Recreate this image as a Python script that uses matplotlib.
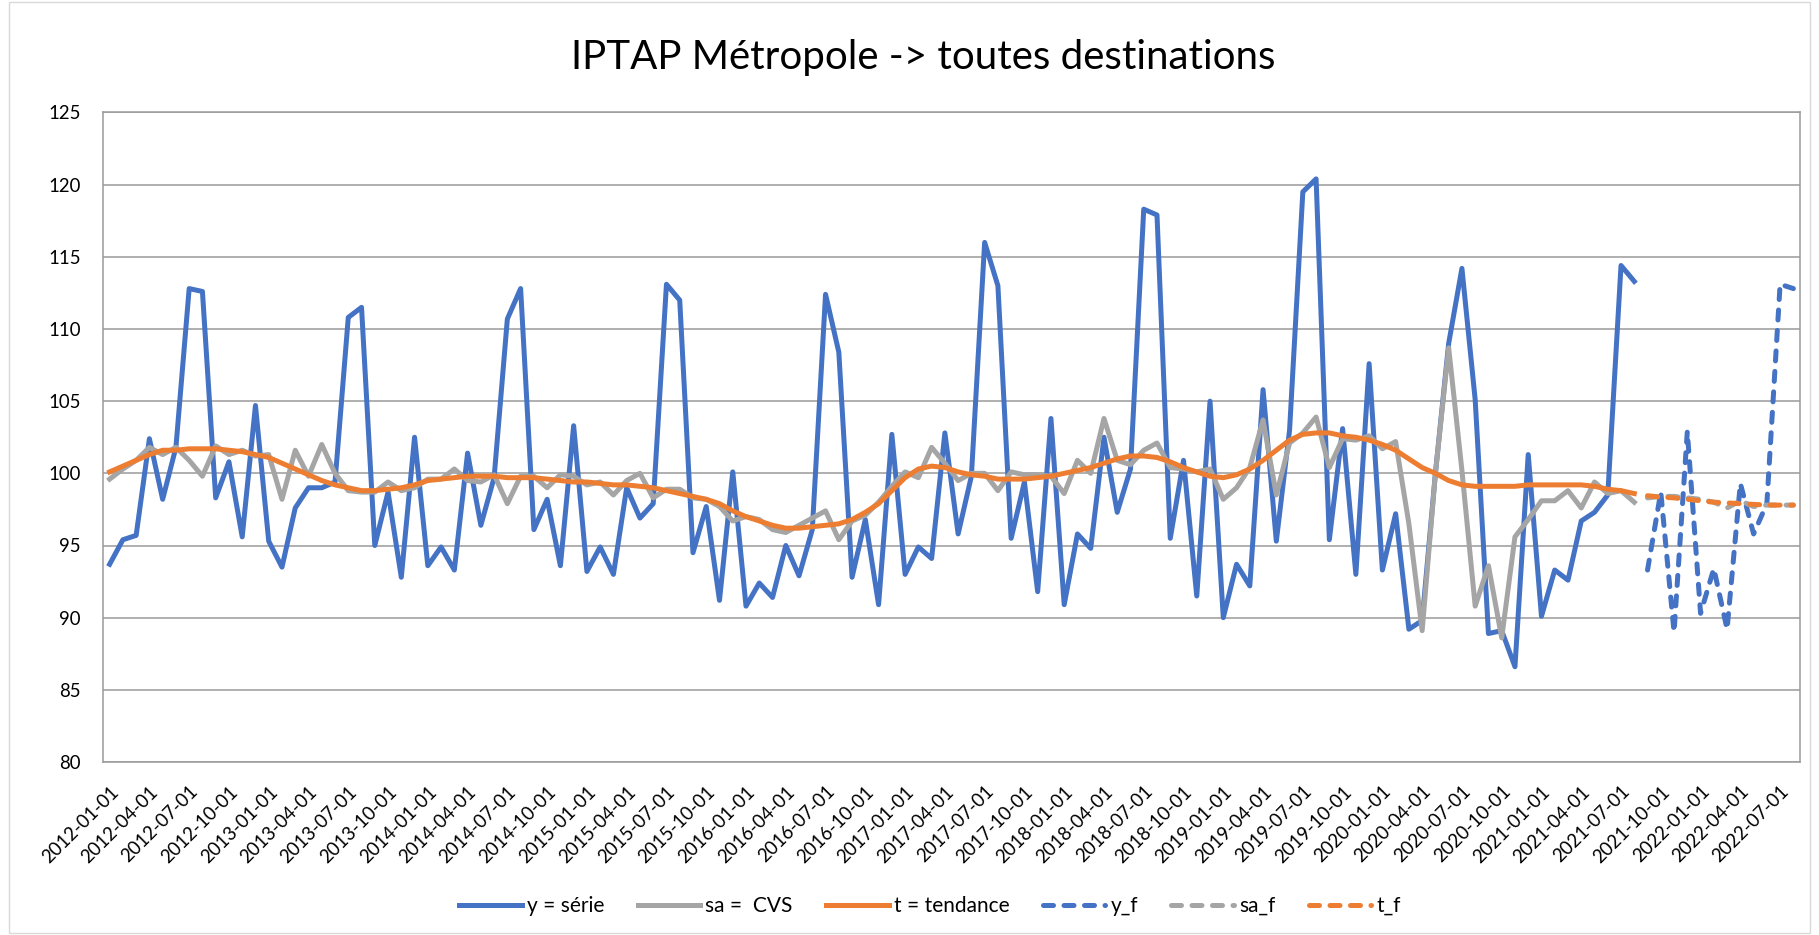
import matplotlib.pyplot as plt
import numpy as np
import pandas as pd
from matplotlib.patches import Rectangle

# axe des catégories : un point par mois, de 2012-01 à 2022-08
months = pd.date_range("2012-01-01", "2022-08-01", freq="MS")
month_labels = [d.strftime("%Y-%m-%d") for d in months]

# série observée (2012-01 -> 2021-08)
y = [93.7, 95.4, 95.7, 102.4, 98.2, 101.8, 112.8, 112.6, 98.3, 100.8,
     95.6, 104.7, 95.3, 93.5, 97.6, 99.0, 99.0, 99.4, 110.8, 111.5,
     95.0, 98.7, 92.8, 102.5, 93.6, 94.9, 93.3, 101.4, 96.4, 99.7,
     110.7, 112.8, 96.1, 98.2, 93.6, 103.3, 93.2, 94.9, 93.0, 99.0,
     96.9, 97.9, 113.1, 112.0, 94.5, 97.7, 91.2, 100.1, 90.8, 92.4,
     91.4, 95.0, 92.9, 96.1, 112.4, 108.4, 92.8, 96.8, 90.9, 102.7,
     93.0, 94.9, 94.1, 102.8, 95.8, 99.8, 116.0, 113.0, 95.5, 99.4,
     91.8, 103.8, 90.9, 95.8, 94.8, 102.5, 97.3, 100.3, 118.3, 117.9,
     95.5, 100.9, 91.5, 105.0, 90.0, 93.7, 92.2, 105.8, 95.3, 103.0,
     119.5, 120.4, 95.4, 103.1, 93.0, 107.6, 93.3, 97.2, 89.2, 89.8,
     100.0, 109.0, 114.2, 105.1, 88.9, 89.1, 86.6, 101.3, 90.1, 93.3,
     92.6, 96.7, 97.3, 98.5, 114.4, 113.3]

# série corrigée des variations saisonnières
sa = [99.6, 100.3, 100.9, 101.8, 101.3, 101.8, 100.9, 99.8, 101.9, 101.3,
      101.6, 101.2, 101.3, 98.2, 101.6, 99.8, 102.0, 100.0, 98.8, 98.7,
      98.7, 99.4, 98.8, 99.0, 99.6, 99.6, 100.3, 99.5, 99.4, 99.9,
      97.9, 99.8, 99.8, 99.0, 99.9, 99.8, 99.2, 99.4, 98.5, 99.5,
      100.0, 98.3, 98.9, 98.9, 98.3, 98.2, 97.7, 96.7, 97.0, 96.8,
      96.1, 95.9, 96.4, 96.9, 97.4, 95.4, 96.7, 97.1, 98.0, 99.1,
      100.1, 99.7, 101.8, 100.7, 99.5, 100.0, 100.0, 98.8, 100.1, 99.9,
      99.9, 99.8, 98.6, 100.9, 100.0, 103.8, 100.9, 100.6, 101.6, 102.1,
      100.4, 100.3, 100.1, 100.3, 98.2, 99.0, 100.4, 103.7, 98.5, 102.1,
      102.8, 103.9, 100.4, 102.4, 102.3, 102.6, 101.7, 102.2, 96.5, 89.1,
      100.0, 108.7, 100.2, 90.8, 93.6, 88.6, 95.6, 96.8, 98.1, 98.1,
      98.8, 97.6, 99.4, 98.6, 98.8, 98.0]

# tendance
t = [100.1, 100.5, 100.9, 101.3, 101.6, 101.6, 101.7, 101.7, 101.7, 101.6,
     101.5, 101.3, 101.1, 100.7, 100.3, 99.9, 99.5, 99.2, 99.0, 98.8,
     98.8, 98.9, 99.0, 99.2, 99.5, 99.6, 99.7, 99.8, 99.8, 99.8,
     99.7, 99.7, 99.7, 99.6, 99.5, 99.4, 99.4, 99.3, 99.2, 99.2,
     99.1, 99.0, 98.8, 98.6, 98.4, 98.2, 97.9, 97.4, 97.0, 96.7,
     96.4, 96.2, 96.2, 96.3, 96.4, 96.5, 96.8, 97.3, 97.9, 98.8,
     99.7, 100.3, 100.5, 100.4, 100.1, 99.9, 99.8, 99.6, 99.6, 99.6,
     99.7, 99.8, 100.0, 100.2, 100.4, 100.7, 101.0, 101.2, 101.2, 101.1,
     100.8, 100.4, 100.1, 99.8, 99.7, 99.9, 100.3, 100.9, 101.6, 102.3,
     102.7, 102.8, 102.8, 102.6, 102.5, 102.3, 102.0, 101.6, 101.0, 100.4,
     100.0, 99.5, 99.2, 99.1, 99.1, 99.1, 99.1, 99.2, 99.2, 99.2,
     99.2, 99.2, 99.1, 98.9, 98.8, 98.6]

# prévisions (2021-09 -> 2022-08)
y_f = [93.3, 98.7, 89.0, 102.9, 90.3, 93.4, 89.2, 99.3, 95.8, 97.9, 113.1, 112.8]
sa_f = [98.3, 98.4, 98.4, 98.3, 98.2, 98.0, 97.6, 98.1, 97.7, 97.8, 97.8, 97.8]
t_f = [98.45, 98.35, 98.3, 98.2, 98.1, 98.0, 97.95, 97.9, 97.85, 97.8, 97.8, 97.8]

BLUE = "#4472C4"
GRAY = "#A5A5A5"
ORANGE = "#ED7D31"
GRID = "#9a9a9a"

plt.rcParams["font.family"] = ["Lato", "DejaVu Sans"]

W, H = 1819, 935
fig = plt.figure(figsize=(W / 100, H / 100), dpi=100)
ax = fig.add_axes([103 / W, 1 - 762 / H, (1800 - 103) / W, (762 - 112.5) / H])

x_hist = np.arange(len(y))
x_fc = np.arange(len(y), len(y) + len(y_f))
lw = 3.6
dash = (2.0, 2.1)

ax.plot(x_hist, y, color=BLUE, lw=lw, label="y = série")
ax.plot(x_hist, sa, color=GRAY, lw=lw, label="sa =  CVS")
ax.plot(x_hist, t, color=ORANGE, lw=lw, label="t = tendance")
ax.plot(x_fc, y_f, color=BLUE, lw=lw, dashes=dash, dash_capstyle="round", label="y_f")
ax.plot(x_fc, sa_f, color=GRAY, lw=lw, dashes=dash, dash_capstyle="round", label="sa_f")
ax.plot(x_fc, t_f, color=ORANGE, lw=lw, dashes=dash, dash_capstyle="round", label="t_f")

ax.set_xlim(-0.5, len(months) - 0.5)
ax.set_ylim(80, 125)
ax.set_yticks(range(80, 126, 5))
ax.yaxis.grid(True, color=GRID, lw=1.1)
ax.set_axisbelow(True)
for sp in ax.spines.values():
    sp.set_color(GRID)
    sp.set_linewidth(1.1)

tick_pos = np.arange(0, len(months), 3)
ax.set_xticks(tick_pos)
ax.set_xticklabels([month_labels[i] for i in tick_pos], rotation=45,
                   ha="right", va="top", rotation_mode="anchor")
ax.tick_params(axis="x", length=0, pad=15, labelsize=13.4)
ax.tick_params(axis="y", length=0, pad=16, labelsize=13.4)

fig.text(923 / W, 1 - 57 / H, "IPTAP Métropole -> toutes destinations",
         ha="center", va="center", fontsize=29)

fig.legend(ncol=6, loc="center", bbox_to_anchor=(930 / W, 1 - 906 / H),
           frameon=False, fontsize=15, handlelength=3.0, handletextpad=0.25,
           columnspacing=1.6)

fig.add_artist(Rectangle((9 / W, 2 / H), (1810 - 9) / W, (933 - 2) / H,
                         transform=fig.transFigure, fill=False,
                         ec="#d9d9d9", lw=1))

fig.savefig("out.png", dpi=100)
